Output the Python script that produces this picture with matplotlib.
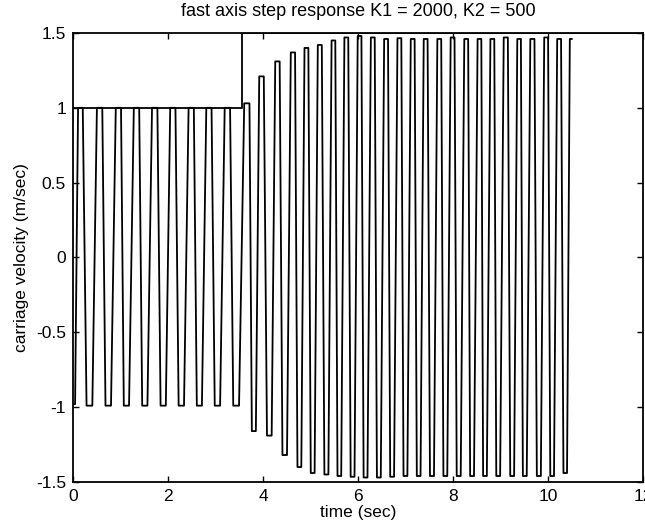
import numpy as np
import matplotlib
matplotlib.use("Agg")
import matplotlib.pyplot as plt

plt.rcParams['font.family'] = ['Liberation Sans', 'DejaVu Sans']

# peaks (top caps) and troughs (bottom U's) of the carriage velocity
top_t = [0.15, 0.57, 0.97, 1.35, 1.73, 2.11, 2.50, 2.87, 3.26,
         3.68, 3.97, 4.31, 4.64, 4.92, 5.20, 5.49, 5.76, 6.04, 6.32, 6.60,
         6.88, 7.16, 7.43, 7.72, 8.00, 8.29, 8.57, 8.84, 9.12, 9.40, 9.68,
         9.97, 10.24, 10.50]
top_v = [1.0, 1.0, 1.0, 1.0, 1.0, 1.0, 1.0, 1.0, 1.0,
         1.03, 1.21, 1.31, 1.37, 1.40, 1.42, 1.45, 1.47, 1.48, 1.47, 1.46,
         1.465, 1.46, 1.46, 1.46, 1.47, 1.46, 1.46, 1.46, 1.47, 1.46, 1.46,
         1.47, 1.46, 1.46]
bot_t = [0.0, 0.34, 0.73, 1.11, 1.50, 1.89, 2.27, 2.65, 3.03, 3.42,
         3.80, 4.13, 4.45, 4.76, 5.04, 5.33, 5.60, 5.88, 6.15, 6.43, 6.71,
         6.99, 7.27, 7.55, 7.83, 8.11, 8.39, 8.66, 8.94, 9.24, 9.50, 9.80,
         10.08, 10.36]
bot_v = [-0.98, -0.99, -0.99, -0.99, -0.99, -0.99, -0.99, -0.99, -0.99, -0.99,
         -1.16, -1.19, -1.32, -1.40, -1.44, -1.45, -1.46, -1.465, -1.47, -1.47, -1.465,
         -1.46, -1.46, -1.46, -1.46, -1.46, -1.46, -1.46, -1.46, -1.46, -1.46, -1.46,
         -1.46, -1.44]

# commanded velocity step
cmd_t = [0.0, 3.55, 3.55, 12.0]
cmd_v = [1.0, 1.0, 1.5, 1.5]

ext = sorted(zip(top_t + bot_t, top_v + bot_v))
et = np.array([e[0] for e in ext])
ev = np.array([e[1] for e in ext])

# square-ish wave: plateau around each extremum, slanted edges in between
frac = 0.29
t_pts, v_pts = [], []
for i in range(len(et)):
    gl = et[i] - et[i - 1] if i > 0 else 0.0
    gr = et[i + 1] - et[i] if i < len(et) - 1 else 0.0
    t_pts += [et[i] - frac * gl, et[i] + frac * gr]
    v_pts += [ev[i], ev[i]]

fig = plt.figure(figsize=(6.45, 5.31), dpi=100)
ax = fig.add_axes([0.1132, 0.0923, 0.8837, 0.8456])

ax.plot(cmd_t, cmd_v, color='black', lw=1.3)
ax.plot(t_pts, v_pts, color='black', lw=1.3, solid_joinstyle='round')

ax.set_xlim(0, 12)
ax.set_ylim(-1.5, 1.5)
ax.set_xticks([0, 2, 4, 6, 8, 10, 12])
ax.set_yticks([-1.5, -1, -0.5, 0, 0.5, 1, 1.5])
ax.set_yticklabels(['-1.5', '-1', '-0.5', '0', '0.5', '1', '1.5'])
ax.tick_params(direction='in', top=True, right=True, length=4.5, width=1,
               labelsize=12.5, pad=5)
for s in ax.spines.values():
    s.set_linewidth(1.3)

ax.set_title('fast axis step response K1 = 2000, K2 = 500', fontsize=13, pad=12)
ax.set_xlabel('time (sec)', fontsize=12.5, labelpad=1)
ax.set_ylabel('carriage velocity (m/sec)', fontsize=12.5, labelpad=5)

fig.savefig('out.png', dpi=100)
